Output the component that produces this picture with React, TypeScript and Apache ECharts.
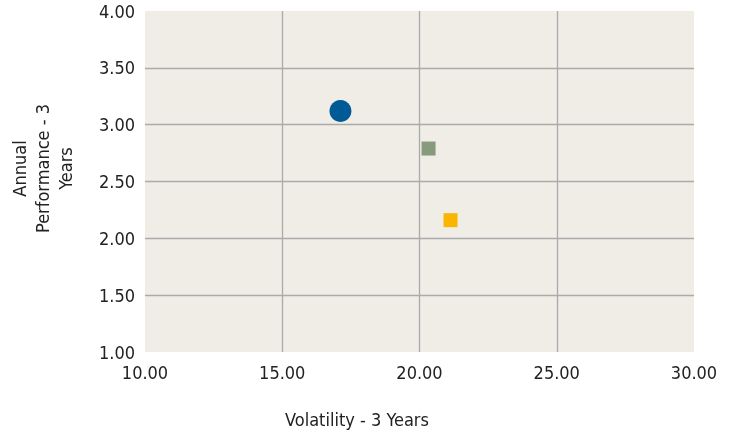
import React, { useEffect, useRef } from "react";
import * as echarts from "echarts";

const xTicks = { min: 10, max: 30, interval: 5 };
const yTicks = { min: 1, max: 4, interval: 0.5 };
const pointNames = ["Fund", "Category", "Benchmark"];
const pointX = [17.12, 20.33, 21.13];
const pointY = [3.12, 2.79, 2.16];
const pointColors = ["#005a96", "#879a7b", "#f9b500"];
const pointSymbols = ["circle", "rect", "rect"];
const pointSizes = [22, 14, 14];
const xAxisName = "Volatility - 3 Years";
const yAxisName = "Annual\nPerformance - 3\nYears";

const FONT = "'DejaVu Sans Condensed', 'DejaVu Sans', sans-serif";
const FS = 18;

export default function App() {
  const ref = useRef<HTMLDivElement>(null);
  useEffect(() => {
    if (!ref.current) return;
    const chart = echarts.init(ref.current, undefined, { renderer: "svg" });
    chart.setOption({
      animation: false,
      textStyle: { fontFamily: FONT },
      grid: {
        left: 145,
        right: 38,
        top: 11,
        bottom: 79,
        show: true,
        backgroundColor: "#f0ede7",
        borderWidth: 0,
      },
      xAxis: {
        type: "value",
        min: xTicks.min,
        max: xTicks.max,
        interval: xTicks.interval,
        axisLine: { show: false },
        axisTick: { show: false },
        axisLabel: {
          formatter: (v: number) => v.toFixed(2),
          color: "#222",
          fontSize: FS,
          fontFamily: FONT,
          margin: 11,
        },
        splitLine: {
          show: true,
          showMinLine: false,
          showMaxLine: false,
          lineStyle: { color: "#aaaaaa", width: 1.3 },
        },
      },
      yAxis: {
        type: "value",
        min: yTicks.min,
        max: yTicks.max,
        interval: yTicks.interval,
        name: yAxisName,
        nameLocation: "middle",
        nameGap: 68,
        nameTextStyle: {
          color: "#222",
          fontSize: FS,
          fontFamily: FONT,
          lineHeight: 23,
          align: "center",
          padding: [0, 0, 0, 26],
        },
        axisLine: { show: false },
        axisTick: { show: false },
        axisLabel: {
          formatter: (v: number) => v.toFixed(2),
          color: "#222",
          fontSize: FS,
          fontFamily: FONT,
          margin: 10,
          padding: [8, 0, 0, 0],
        },
        splitLine: {
          show: true,
          showMinLine: false,
          showMaxLine: false,
          lineStyle: { color: "#aaaaaa", width: 1.3 },
        },
      },
      graphic: [
        {
          type: "text",
          x: 357,
          y: 419,
          style: {
            text: xAxisName,
            fill: "#222",
            font: `${FS}px ${FONT}`,
            textAlign: "center",
            textVerticalAlign: "middle",
          },
        },
      ],
      series: pointNames.map((n, i) => ({
        name: n,
        type: "scatter",
        symbol: pointSymbols[i],
        symbolSize: pointSizes[i],
        itemStyle: { color: pointColors[i], opacity: 1 },
        data: [[pointX[i], pointY[i]]],
      })),
    });
    return () => chart.dispose();
  }, []);
  return (
    <div
      ref={ref}
      style={{ position: "fixed", left: 0, top: 0, width: 732, height: 431 }}
    />
  );
}
